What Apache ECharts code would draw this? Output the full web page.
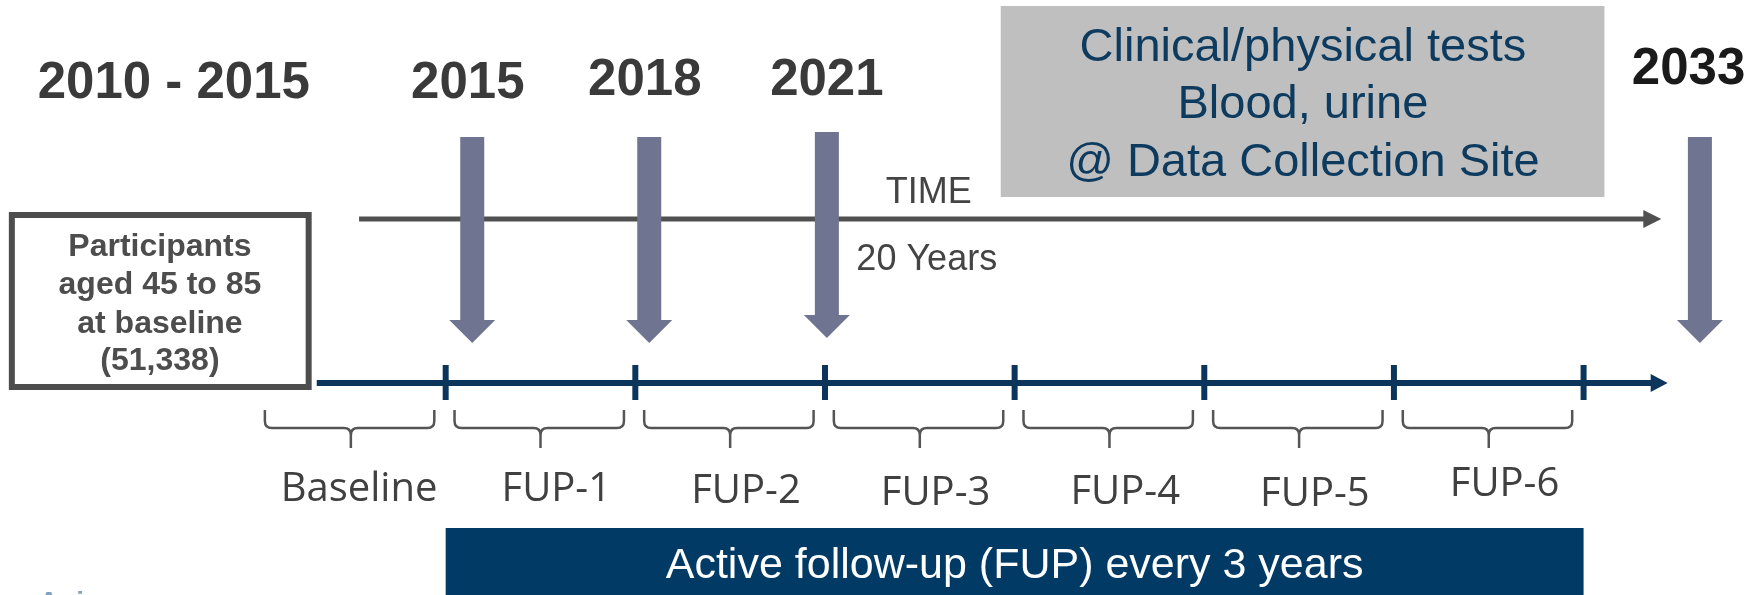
<!DOCTYPE html>
<html>
<head>
<meta charset="utf-8">
<title>Study timeline</title>
<script src="https://cdn.jsdelivr.net/npm/echarts@6/dist/echarts.min.js"></script>
<style>
    html, body { margin: 0; padding: 0; background: #ffffff; }
    #chart { width: 1753px; height: 595px; }
</style>
</head>
<body>
<div id="chart"></div>
<script>
// follow-up ticks, every 3 years
const tickYears = [2015, 2018, 2021, 2024, 2027, 2030, 2033];

// periods under the timeline
const periodLabels = ["Baseline", "FUP-1", "FUP-2", "FUP-3", "FUP-4", "FUP-5", "FUP-6"];
const periodStart = [2012, 2015, 2018, 2021, 2024, 2027, 2030];
const periodEnd = [2015, 2018, 2021, 2024, 2027, 2030, 2033];

// data collection waves
const waveLabels = ["2010 - 2015", "2015", "2018", "2021", "2033"];
const waveLabelAt = [2010.7, 2015.35, 2018.15, 2021.03, 2034.66];
const arrowAt = [2015.42, 2018.22, 2021.03, 2034.84];

// arrows spans (years)
const timelineSpan = [2012.96, 2034.33];
const timeArrowSpan = [2013.63, 2034.23];
const activeSpan = [2015, 2033];

// texts
const boxLines = ["Participants", "aged 45 to 85", "at baseline", "(51,338)"];
const testLines = ["Clinical/physical tests", "Blood, urine", "@ Data Collection Site"];
const bannerText = "Active follow-up (FUP) every 3 years";

/* ===============================
   layout (vertical rows, px-like units)
   =============================== */
const waveLabelY = [84, 84, 81, 81, 70];
const arrowTop = [137, 137, 132, 137];
const arrowTip = [343, 343, 338, 343];
const labelY = [490, 490, 492, 494, 493, 495, 485];
const labelDx = [0.13, 0.25, 0.25, 0.25, 0.25, 0.25, 0.25];
const LINE_Y = 383;
const TIME_Y = 219;

const SANS = '"Liberation Sans", Arial, Helvetica, sans-serif';
const HUMAN = '"Open Sans", "Noto Sans", sans-serif';

function textEl(p, text, st) {
    return {
        type: "text",
        style: Object.assign({
            text: text, x: p[0], y: p[1],
            align: "center", verticalAlign: "middle"
        }, st)
    };
}

const chart = echarts.init(document.getElementById("chart"));

chart.setOption({
    animation: false,
    grid: { left: 0, right: 0, top: 0, bottom: 0 },
    xAxis: { type: "value", min: 2007.95, max: 2035.68, show: false },
    yAxis: { type: "value", min: 0, max: 595, inverse: true, show: false },
    series: [
        // gray box with tests
        {
            type: "custom",
            data: [[2023.78, 0]],
            renderItem: (params, api) => {
                const a = api.coord([2023.78, 6]);
                const b = api.coord([2033.33, 197]);
                const children = [{
                    type: "rect",
                    shape: { x: a[0], y: a[1], width: b[0] - a[0], height: b[1] - a[1] },
                    style: { fill: "#bfbfbf" }
                }];
                const rowsY = [48, 105, 163];
                testLines.forEach((t, i) => {
                    children.push(textEl(api.coord([2028.56, rowsY[i]]), t,
                        { fill: "#0d3b5f", fontSize: 47, fontFamily: SANS }));
                });
                return { type: "group", children: children };
            }
        },
        // participants box
        {
            type: "custom",
            data: [[2008.09, 0]],
            renderItem: (params, api) => {
                const a = api.coord([2008.09, 212]);
                const b = api.coord([2012.88, 390]);
                const children = [{
                    type: "rect",
                    shape: { x: a[0] + 3, y: a[1] + 3, width: b[0] - a[0] - 6, height: b[1] - a[1] - 6 },
                    style: { fill: "#ffffff", stroke: "#4d4d4d", lineWidth: 6 }
                }];
                const rowsY = [247, 285, 324, 361];
                boxLines.forEach((t, i) => {
                    children.push(textEl(api.coord([2010.48, rowsY[i]]), t,
                        { fill: "#4d4d4d", fontSize: 32, fontWeight: "bold", fontFamily: SANS }));
                });
                return { type: "group", children: children };
            }
        },
        // active follow-up banner
        {
            type: "custom",
            data: [activeSpan],
            renderItem: (params, api) => {
                const a = api.coord([activeSpan[0], 528]);
                const b = api.coord([activeSpan[1], 600]);
                return {
                    type: "group", children: [
                        { type: "rect", shape: { x: a[0], y: a[1], width: b[0] - a[0], height: b[1] - a[1] }, style: { fill: "#003a65" } },
                        textEl(api.coord([(activeSpan[0] + activeSpan[1]) / 2, 566]), bannerText,
                            { fill: "#ffffff", fontSize: 43, fontFamily: SANS })
                    ]
                };
            }
        },
        // TIME arrow
        {
            type: "custom",
            data: [[timeArrowSpan[0], TIME_Y]],
            renderItem: (params, api) => {
                const a = api.coord([timeArrowSpan[0], TIME_Y]);
                const b = api.coord([timeArrowSpan[1], TIME_Y]);
                return {
                    type: "group", children: [
                        { type: "line", shape: { x1: a[0], y1: a[1], x2: b[0] - 16, y2: b[1] }, style: { stroke: "#505050", lineWidth: 5 } },
                        { type: "polygon", shape: { points: [[b[0] - 18, b[1] - 9], [b[0], b[1]], [b[0] - 18, b[1] + 9]] }, style: { fill: "#505050" } },
                        textEl(api.coord([2022.64, 193]), "TIME", { fill: "#444444", fontSize: 36, fontFamily: SANS }),
                        textEl(api.coord([2022.61, 260]), "20 Years", { fill: "#444444", fontSize: 36, fontFamily: SANS })
                    ]
                };
            }
        },
        // blue timeline
        {
            type: "custom",
            data: [[timelineSpan[0], LINE_Y]],
            renderItem: (params, api) => {
                const a = api.coord([timelineSpan[0], LINE_Y]);
                const b = api.coord([timelineSpan[1], LINE_Y]);
                return {
                    type: "group", children: [
                        { type: "line", shape: { x1: a[0], y1: a[1], x2: b[0] - 15, y2: b[1] }, style: { stroke: "#0b355a", lineWidth: 6 } },
                        { type: "polygon", shape: { points: [[b[0] - 17, b[1] - 9], [b[0], b[1]], [b[0] - 17, b[1] + 9]] }, style: { fill: "#0b355a" } }
                    ]
                };
            }
        },
        // ticks
        {
            type: "custom",
            data: tickYears.map(y => [y, LINE_Y]),
            renderItem: (params, api) => {
                const a = api.coord([api.value(0), 365]);
                const b = api.coord([api.value(0), 400]);
                return { type: "rect", shape: { x: a[0] - 3, y: a[1], width: 6, height: b[1] - a[1] }, style: { fill: "#0b355a" } };
            }
        },
        // down arrows
        {
            type: "custom",
            data: arrowAt.map(x => [x, 0]),
            renderItem: (params, api) => {
                const i = params.dataIndex;
                const t = api.coord([api.value(0), arrowTop[i]]);
                const p = api.coord([api.value(0), arrowTip[i]]);
                const cx = t[0], hs = 12, hh = 23, hy = p[1] - 23;
                return {
                    type: "polygon",
                    shape: {
                        points: [[cx - hs, t[1]], [cx + hs, t[1]], [cx + hs, hy], [cx + hh, hy],
                            [cx, p[1]], [cx - hh, hy], [cx - hs, hy]]
                    },
                    style: { fill: "#6f7590" }
                };
            }
        },
        // wave labels
        {
            type: "custom",
            data: waveLabelAt.map(x => [x, 0]),
            renderItem: (params, api) => {
                const i = params.dataIndex;
                return textEl(api.coord([api.value(0), waveLabelY[i]]), waveLabels[i], {
                    fill: i === waveLabels.length - 1 ? "#1a1a1a" : "#3a3a3a",
                    fontSize: 51, fontWeight: "bold", fontFamily: SANS
                });
            }
        },
        // braces
        {
            type: "custom",
            data: periodStart.map((s, i) => [s, periodEnd[i]]),
            renderItem: (params, api) => {
                const a = api.coord([api.value(0) + 0.14, 410]);
                const b = api.coord([api.value(1) - 0.18, 428]);
                const m = api.coord([(api.value(0) + api.value(1)) / 2, 448]);
                const x1 = a[0], x2 = b[0], y0 = a[1], y1 = b[1], xm = m[0], y2 = m[1], r = 7;
                const d = "M" + x1 + " " + y0 + " L" + x1 + " " + (y1 - r) +
                    " Q" + x1 + " " + y1 + " " + (x1 + r) + " " + y1 +
                    " L" + (xm - r) + " " + y1 + " Q" + xm + " " + y1 + " " + xm + " " + (y1 + r) +
                    " L" + xm + " " + y2 +
                    " M" + xm + " " + (y1 + r) + " Q" + xm + " " + y1 + " " + (xm + r) + " " + y1 +
                    " L" + (x2 - r) + " " + y1 + " Q" + x2 + " " + y1 + " " + x2 + " " + (y1 - r) +
                    " L" + x2 + " " + y0;
                return { type: "path", shape: { pathData: d }, style: { fill: null, stroke: "#555555", lineWidth: 2.5 } };
            }
        },
        // period labels
        {
            type: "custom",
            data: periodStart.map((s, i) => [(s + periodEnd[i]) / 2, 0]),
            renderItem: (params, api) => {
                const i = params.dataIndex;
                return textEl(api.coord([api.value(0) + labelDx[i], labelY[i]]), periodLabels[i],
                    { fill: "#404040", fontSize: 40, fontFamily: HUMAN });
            }
        },
        // logo fragment at the bottom edge
        {
            type: "custom",
            data: [[2007.95, 0]],
            renderItem: (params, api) => {
                const p = api.coord([2007.9, 589]);
                return textEl(p, "on Aging", { fill: "#2f6596", fontSize: 28, fontWeight: "bold", fontFamily: SANS, align: "left", verticalAlign: "top", opacity: 0.6 });
            }
        }
    ]
});
</script>
</body>
</html>
